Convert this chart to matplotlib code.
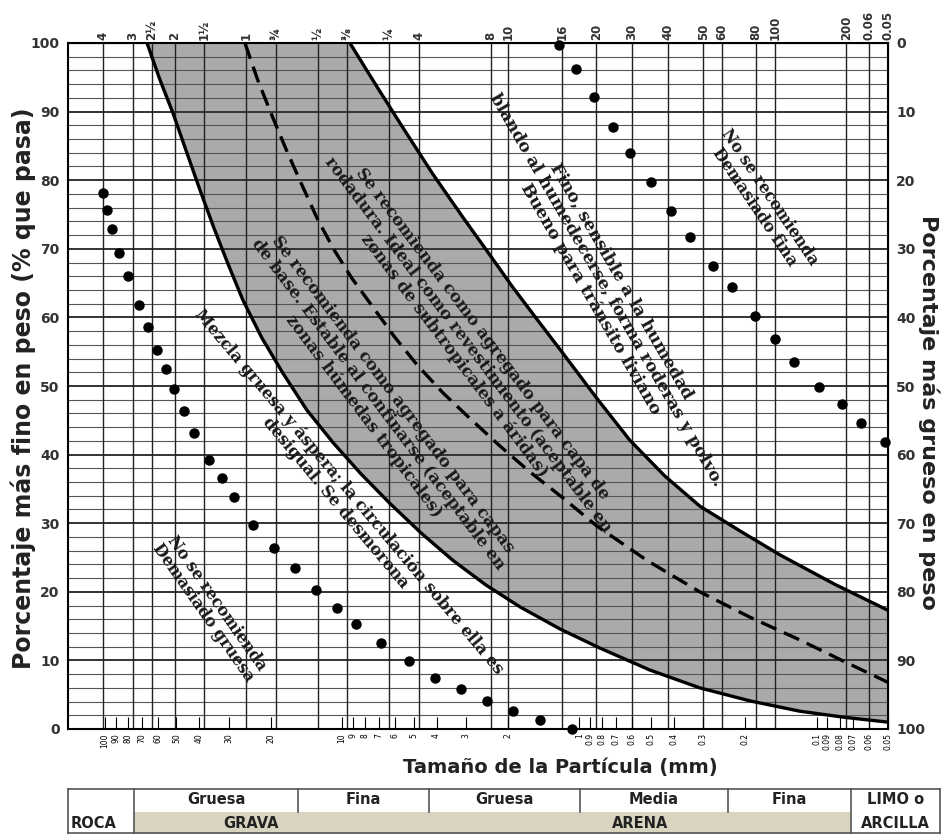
import matplotlib.pyplot as plt

# tamices del eje superior (mm) y sus etiquetas
sieve_mm = [101.6, 76.2, 63.5, 50.8, 38.1, 25.4, 19.05, 12.7, 9.525, 6.35,
            4.75, 2.36, 2.0, 1.18, 0.85, 0.6, 0.425, 0.3, 0.25, 0.18, 0.15,
            0.075, 0.06, 0.05]
sieve_labels = ['4', '3', '2½', '2', '1½', '1', '¾', '½', '⅜', '¼',
                '4', '8', '10', '16', '20', '30', '40', '50', '60', '80',
                '100', '200', '0.06', '0.05']

# escala inferior en mm
mm_ticks = [100, 90, 80, 70, 60, 50, 40, 30, 20, 10, 9, 8, 7, 6, 5, 4, 3, 2,
            1, 0.9, 0.8, 0.7, 0.6, 0.5, 0.4, 0.3, 0.2, 0.1, 0.09, 0.08, 0.07,
            0.06, 0.05]

# limite inferior de la banda
low_mm = [66.5, 58.6, 51.7, 45.6, 39.8, 34.7, 30.3, 26.2, 21.8, 17.8, 14.1,
          10.9, 8.34, 6.30, 4.66, 3.42, 2.48, 1.78, 1.21, 0.820, 0.505, 0.311,
          0.191, 0.118, 0.0761, 0.05]
low_pct = [100, 94.6, 89.8, 84.4, 78.6, 73.0, 67.8, 62.5, 57.0, 51.9, 46.5,
           41.7, 37.2, 32.9, 28.6, 24.6, 21.0, 17.8, 14.6, 11.8, 8.6, 6.0,
           4.1, 2.6, 1.7, 1.0]

# limite superior de la banda
up_mm = [9.28, 7.07, 5.44, 4.15, 3.10, 2.43, 1.91, 1.50, 1.175, 0.853, 0.613,
         0.437, 0.311, 0.211, 0.143, 0.0839, 0.05]
up_pct = [100, 93.4, 87.2, 80.9, 74.6, 69.5, 64.4, 59.6, 54.8, 48.4, 42.1,
          36.9, 32.5, 28.9, 25.4, 21.1, 17.3]

# curva intermedia (discontinua)
mid_mm = [25.7, 22.7, 19.6, 16.9, 14.6, 12.7, 10.8, 9.10, 7.49, 6.06, 4.84,
          3.76, 2.90, 2.17, 1.62, 1.175, 0.845, 0.515, 0.311, 0.191, 0.118,
          0.0761, 0.05]
mid_pct = [100, 94.6, 89.1, 83.8, 78.9, 74.3, 69.8, 65.7, 61.7, 57.3, 53.1,
           49.0, 45.3, 41.3, 37.5, 33.7, 29.6, 24.5, 20.0, 16.3, 13.0, 9.8, 6.8]

# puntos: mezcla gruesa
coarse_mm = [102.0, 98.1, 93.4, 87.3, 80.0, 71.9, 65.9, 60.4, 55.3, 51.2, 46.5,
             42.2, 36.5, 32.1, 28.6, 23.8, 19.4, 15.8, 12.9, 10.5, 8.75, 6.87,
             5.24, 4.07, 3.16, 2.46, 1.91, 1.46, 1.07]
coarse_pct = [78.1, 75.6, 72.9, 69.4, 66.0, 61.8, 58.6, 55.2, 52.5, 49.6, 46.4,
              43.1, 39.2, 36.6, 33.8, 29.7, 26.4, 23.5, 20.3, 17.6, 15.3, 12.5,
              9.9, 7.4, 5.8, 4.1, 2.6, 1.3, 0.0]

# puntos: mezcla fina
fine_mm = [1.22, 1.03, 0.87, 0.72, 0.61, 0.50, 0.41, 0.343, 0.274, 0.228,
           0.182, 0.150, 0.124, 0.098, 0.0784, 0.0652, 0.0516]
fine_pct = [99.7, 96.2, 92.1, 87.8, 84.0, 79.7, 75.5, 71.7, 67.5, 64.4,
            60.2, 56.9, 53.5, 49.9, 47.4, 44.6, 41.8]

# tabla inferior
col_edges = [68, 134, 298, 429, 580, 728, 851, 940]
top_row = ['', 'Gruesa', 'Fina', 'Gruesa', 'Media', 'Fina', 'LIMO o']
bottom_row = ['ROCA', 'GRAVA', 'ARENA', 'ARCILLA']

W, H = 942, 834


def fp(x, y):
    return x / W, 1 - y / H


fig = plt.figure(figsize=(W / 100, H / 100), dpi=100)
ax = fig.add_axes([68 / W, 105 / H, 820 / W, 686 / H])
ax.set_xscale('log')
ax.set_xlim(143.2, 0.0501)
ax.set_ylim(0, 100)

# rejilla
for v in range(2, 100, 2):
    if v % 10 == 0:
        ax.axhline(v, color='#333333', lw=1.4, zorder=1)
    else:
        ax.axhline(v, color='#555555', lw=0.8, zorder=1)
for s in sieve_mm:
    ax.axvline(s, color='#222222', lw=1.0, zorder=1)

# banda
ax.fill(low_mm + up_mm[::-1], low_pct + up_pct[::-1], color='#aaaaaa', lw=0, zorder=0.5)
ax.plot(low_mm, low_pct, color='black', lw=2.4, zorder=3)
ax.plot(up_mm, up_pct, color='black', lw=2.4, zorder=3)
ax.plot(mid_mm, mid_pct, color='black', lw=2.4, ls=(0, (5, 2.5)), zorder=3)

ax.plot(coarse_mm, coarse_pct, 'o', color='black', ms=6.5, zorder=4, clip_on=False)
ax.plot(fine_mm, fine_pct, 'o', color='black', ms=6.5, zorder=4, clip_on=False)

for sp in ax.spines.values():
    sp.set_linewidth(1.5)

# eje inferior
ax.xaxis.set_minor_locator(plt.NullLocator())
ax.set_xticks(mm_ticks, labels=['%g' % v for v in mm_ticks])
ax.tick_params(axis='x', direction='in', length=9, labelsize=5.5, rotation=90, pad=3)
ax.set_yticks(range(0, 101, 10))
ax.tick_params(axis='y', length=0, labelsize=10, pad=6)
for t in ax.get_yticklabels():
    t.set_fontweight('bold')
    t.set_color('#333333')

# eje superior
sec = ax.secondary_xaxis('top')
sec.xaxis.set_minor_locator(plt.NullLocator())
sec.set_xticks(sieve_mm, labels=sieve_labels)
sec.tick_params(length=0, labelsize=8.5, rotation=90, pad=2)
for t in sec.get_xticklabels():
    t.set_fontweight('bold')
    t.set_color('#333333')

# eje derecho
secr = ax.secondary_yaxis('right', functions=(lambda y: 100 - y, lambda y: 100 - y))
secr.set_yticks(range(0, 101, 10))
secr.tick_params(length=0, labelsize=10, pad=6)
for t in secr.get_yticklabels():
    t.set_fontweight('bold')
    t.set_color('#333333')

lab = dict(fontweight='bold', family='DejaVu Sans', color='#222222')
fig.text(*fp(23, 388), 'Porcentaje más fino en peso (% que pasa)', rotation=90,
         ha='center', va='center', fontsize=17, **lab)
fig.text(*fp(929, 412), 'Porcentaje más grueso en peso', rotation=-90,
         ha='center', va='center', fontsize=16, **lab)
fig.text(*fp(560, 768), 'Tamaño de la Partícula (mm)', ha='center', va='center',
         fontsize=14, **lab)

# anotaciones
note = dict(family='DejaVu Serif', fontweight='bold', ha='center', va='center',
            multialignment='center', rotation_mode='anchor', color='#1a1a1a',
            linespacing=1.05, zorder=5)
fig.text(*fp(210, 608), 'No se recomienda\nDemasiado gruesa', rotation=-55, fontsize=11.5, **note)
fig.text(*fp(342, 497), 'Mezcla gruesa y áspera; la circulación sobre ella es\ndesigual. Se desmorona',
         rotation=-50, fontsize=11.8, **note)
fig.text(*fp(468, 345), 'Se recomienda como agregado para capa de\nrodadura. Ideal como revestimiento (aceptable en\nzonas de subtropicales a áridas)',
         rotation=-53, fontsize=12, **note)
fig.text(*fp(378, 405), 'Se recomienda como agregado para capas\nde base. Estable al confinarse (aceptable en\nzonas húmedas tropicales)',
         rotation=-53, fontsize=12, **note)
fig.text(*fp(606, 290), 'Fino, sensible a la humedad\nblando al humedecerse, forma roderas y polvo.\nBueno para tránsito liviano',
         rotation=-60, fontsize=12.3, **note)
fig.text(*fp(762, 202), 'No se recomienda\nDemasiado fina', rotation=-56, fontsize=11.5, **note)

# tabla de clasificacion
tab = fig.add_axes([0, 0, 1, 1], zorder=-1)
tab.set_xlim(0, W)
tab.set_ylim(H, 0)
tab.axis('off')
tab.fill_between([col_edges[1], col_edges[-2]], 812, 834, color='#d8d4c0', lw=0)
tab.plot([col_edges[0], col_edges[-1]], [789, 789], color='#555555', lw=1.2)
tab.plot([col_edges[0], col_edges[-1]], [833, 833], color='#555555', lw=1.2)
for i, xe in enumerate(col_edges):
    yb = 834 if i in (0, 1, len(col_edges) - 2, len(col_edges) - 1) else 812
    tab.plot([xe, xe], [789, yb], color='#555555', lw=1.2)
tf = dict(family='DejaVu Sans', fontweight='bold', fontsize=10.5, color='#222222',
          va='center', ha='center')
for i, t in enumerate(top_row):
    tab.text((col_edges[i] + col_edges[i + 1]) / 2, 800, t, **tf)
tab.text(71, 823, bottom_row[0], **{**tf, 'ha': 'left'})
tab.text(251, 823, bottom_row[1], **tf)
tab.text(640, 823, bottom_row[2], **tf)
tab.text(895, 823, bottom_row[3], **tf)

fig.savefig('out.png', dpi=100)
